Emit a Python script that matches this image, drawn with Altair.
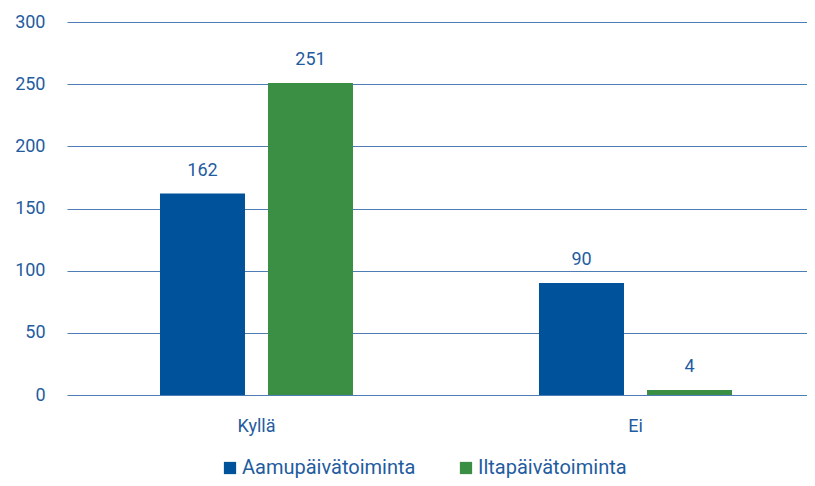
import altair as alt
import pandas as pd

categories = ["Kyllä", "Ei"]
series = ["Aamupäivätoiminta", "Iltapäivätoiminta"]
aamu = [162, 90]
ilta = [251, 4]

rows = []
for i, c in enumerate(categories):
    rows.append({"cat": c, "series": series[0], "value": aamu[i]})
    rows.append({"cat": c, "series": series[1], "value": ilta[i]})
df = pd.DataFrame(rows)

TXT = "#1f5ca0"
FONT = "Roboto"

base = alt.Chart(df).encode(
    x=alt.X("cat:N", sort=categories, title=None,
            scale=alt.Scale(paddingInner=0, paddingOuter=0, range=[0, 758]),
            axis=alt.Axis(labelAngle=0, labelFontSize=18, labelColor=TXT, labelFont=FONT,
                          ticks=False, domain=False, labelPadding=22)),
    xOffset=alt.XOffset("series:N", sort=series,
                        scale=alt.Scale(paddingInner=0.213, paddingOuter=0.861)),
    y=alt.Y("value:Q", title=None,
            scale=alt.Scale(domain=[0, 300]),
            axis=alt.Axis(values=[0, 50, 100, 150, 200, 250, 300], labelFontSize=18,
                          labelColor=TXT, labelFont=FONT, ticks=False, domain=False,
                          labelPadding=22, gridColor="#2f66a8", gridWidth=1, gridOpacity=0.85)),
)

bars = base.mark_bar().encode(
    color=alt.Color("series:N", sort=series,
                    scale=alt.Scale(domain=series, range=["#00539b", "#3a8f45"]),
                    legend=alt.Legend(title=None, orient="none", direction="horizontal",
                                      legendX=153, legendY=436, symbolType="square",
                                      symbolSize=150, symbolStrokeWidth=0, labelFontSize=20,
                                      labelColor=TXT, labelFont=FONT, columnPadding=40,
                                      labelOffset=2, labelLimit=400))
)

labels = base.mark_text(baseline="alphabetic", dy=-18, fontSize=18, color=TXT, font=FONT).encode(
    text="value:Q"
)

chart = (bars + labels).properties(
    width=740, height=373,
    autosize=alt.AutoSizeParams(type="none"),
    padding={"left": 59, "top": 14, "right": 0, "bottom": 83},
).configure_view(stroke=None).configure_axis(gridCap="butt")

chart.save("out.html", embed_options={"renderer": "svg", "actions": False})
